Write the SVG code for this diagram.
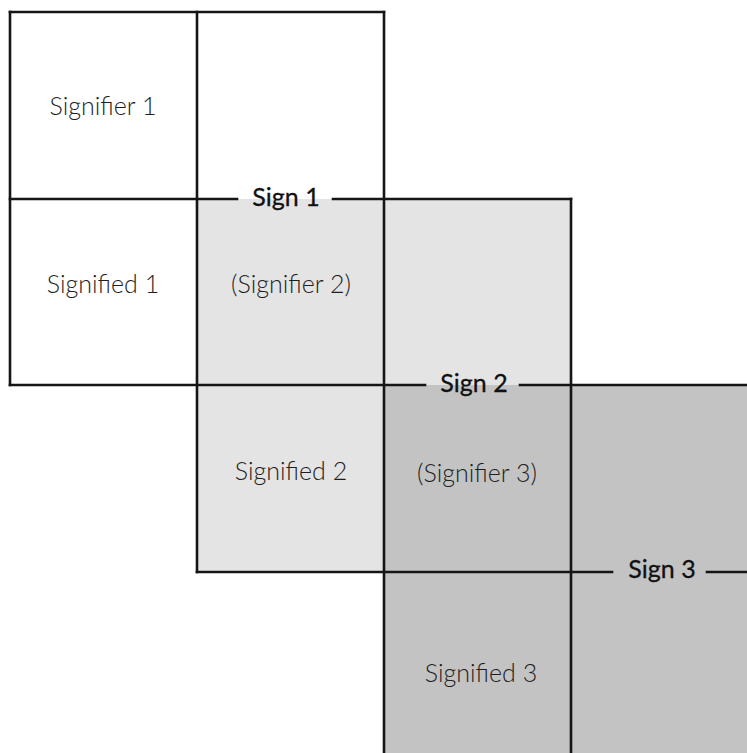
<svg xmlns="http://www.w3.org/2000/svg" width="747" height="753" viewBox="0 0 747 753">
  <style>
    .cell { font-family: Lato, "Open Sans", "Liberation Sans", sans-serif; font-size: 25px; font-weight: 300; fill: #1e1e1e; text-anchor: middle; }
    .sign { font-family: Lato, "Open Sans", "Liberation Sans", sans-serif; font-size: 25px; font-weight: 400; fill: #111; stroke: #111; stroke-width: 0.3; text-anchor: middle; }
    .rule { stroke: #151515; stroke-width: 2.6; fill: none; stroke-linecap: square; }
  </style>
  <rect width="747" height="753" fill="#ffffff"/>

  <!-- Sign 1: signifier over signified -->
  <g id="sign-1">
    <text class="cell" x="103" y="115">Signifier 1</text>
    <text class="cell" x="103" y="293">Signified 1</text>
  </g>

  <!-- Sign 2: the whole of sign 1 becomes its signifier -->
  <g id="sign-2">
    <rect x="197" y="199" width="374" height="373" fill="#e4e4e4"/>
    <text class="cell" x="291" y="293">(Signifier 2)</text>
    <text class="cell" x="291" y="480">Signified 2</text>
  </g>

  <!-- Sign 3: the whole of sign 2 becomes its signifier -->
  <g id="sign-3">
    <rect x="384" y="385" width="363" height="368" fill="#c3c3c3"/>
    <text class="cell" x="477" y="482">(Signifier 3)</text>
    <text class="cell" x="481" y="682">Signified 3</text>
  </g>

  <!-- Grid rules; each horizontal rule breaks for its sign label -->
  <g id="rules" class="rule">
    <path d="M10 12 H384"/>
    <path d="M10 12 V385"/>
    <path d="M197 12 V572"/>
    <path d="M384 12 V753"/>
    <path d="M571 199 V753"/>
    <path d="M10 199 H237 M333 199 H571"/>
    <path d="M10 385 H425 M520 385 H747"/>
    <path d="M197 572 H612 M707 572 H747"/>
  </g>

  <g id="sign-labels">
    <text class="sign" x="286" y="206">Sign 1</text>
    <text class="sign" x="474" y="392">Sign 2</text>
    <text class="sign" x="662" y="578">Sign 3</text>
  </g>
</svg>
